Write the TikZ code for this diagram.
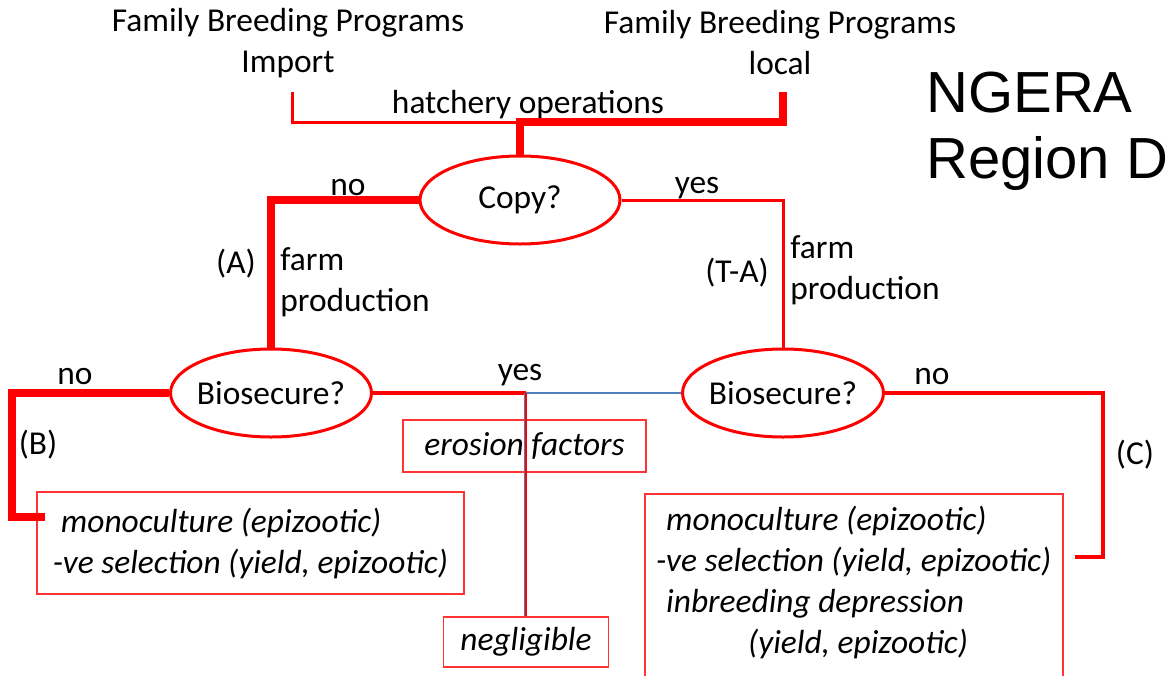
\documentclass[tikz,border=0pt]{standalone}
\usepackage{fontspec}
\setmainfont{Carlito}
\newfontfamily\regionfont{Liberation Sans}
\usetikzlibrary{shapes.geometric}
\definecolor{linkblue}{RGB}{79,129,189}
\newcommand\bodysize{\fontsize{16.7pt}{20.5pt}\selectfont}
\tikzset{
  decision/.style={ellipse,draw=red,line width=1.5pt,fill=white,inner xsep=-1.5pt,inner ysep=0pt,minimum width=100pt,minimum height=44pt},
  effectbox/.style={draw=red!80,line width=.75pt,align=left,font=\bodysize\itshape,inner sep=0pt},
  heavywire/.style={red,line width=4pt},
  midwire/.style={red,line width=2.4pt},
  thinwire/.style={red,line width=1.5pt},
  bluewire/.style={linkblue,line width=.9pt},
  tag/.style={inner sep=1pt}
}

\begin{document}
\begin{tikzpicture}[x=.5pt,y=-.5pt,font=\bodysize]
  \useasboundingbox (0,0) rectangle (1166,675);
  \clip (0,0) rectangle (1166,675);

  \node[align=center] (progImp) at (288,43) {Family Breeding Programs\\Import};
  \node[align=center] (progLoc) at (780,43) {Family Breeding Programs\\local};
  \node[align=left,anchor=north west,inner sep=0pt,font=\regionfont\fontsize{29pt}{33pt}\selectfont]
    (region) at (926,72) {NGERA\\Region D};

  \coordinate (impT) at (292,92);
  \coordinate (locT) at (783,92);
  \coordinate (hatch) at (520,122);
  \node[tag] (hatchLbl) at (528,105) {hatchery operations};

  \node[decision] (copy) at (520,200) {Copy?};
  \node[decision] (bioL) at (271,393) {Biosecure?};
  \node[decision] (bioR) at (783,393) {Biosecure?};

  \node[effectbox,minimum width=121.5pt,minimum height=26pt] (erosion) at (524.5,446) {erosion factors};
  \node[effectbox,minimum width=82.5pt,minimum height=25pt] (neglig) at (526,642) {negligible};
  \node[effectbox,minimum width=213.5pt,minimum height=51pt] (effB) at (250.5,543)
    {\hspace{4pt}monoculture (epizootic)\\-ve selection (yield, epizootic)};
  \node[effectbox,anchor=north west,minimum width=209pt,inner ysep=6pt] (effC) at (644,493)
    {\hspace{5pt}monoculture (epizootic)\\-ve selection (yield, epizootic)\\
     \hspace{5pt}inbreeding depression\\\hspace{46pt}(yield, epizootic)\rule[-24pt]{0pt}{0pt}};

  % hatchery feed
  \draw[thinwire] (impT) |- (hatch);
  \draw[heavywire] (locT) |- (hatch) -- (copy.north);

  % copy branches
  \draw[heavywire] (copy.west) -| (bioL.north);
  \draw[thinwire] (copy.east) -| (bioR.north);
  \node[tag] (noA) at (348,188) {no};
  \node[tag] (yesA) at (697,188) {yes};
  \node[tag] (tagA) at (236,264) {(A)};
  \node[tag,align=left,anchor=west] (farmA) at (278,282) {farm\\production};
  \node[tag] (tagTA) at (737,273) {(T-A)};
  \node[tag,align=left,anchor=west] (farmTA) at (788,270) {farm\\production};

  % biosecure branches
  \coordinate (bendB) at (12,517);
  \coordinate (inB) at (45,517);
  \draw[heavywire] (bioL.west) -| (bendB) -- (inB);
  \coordinate (bendC) at (1103,557);
  \coordinate (inC) at (1075,557);
  \draw[midwire] (bioR.east) -| (bendC) -- (inC);
  \coordinate (yesJ) at (526,393);
  \draw[midwire] (bioL.east) -- (yesJ);
  \draw[bluewire] (yesJ) -- (bioR.west);
  \draw[bluewire] ([xshift=-.8pt]yesJ) -- ([xshift=-.8pt]neglig.north);
  \draw[red,line width=1pt] (yesJ) -- (neglig.north);
  \node[tag] (noB) at (75,377) {no};
  \node[tag] (yesB) at (520,375) {yes};
  \node[tag] (noC) at (932,377) {no};
  \node[tag] (tagB) at (38,445) {(B)};
  \node[tag] (tagC) at (1135,455) {(C)};
\end{tikzpicture}
\end{document}
